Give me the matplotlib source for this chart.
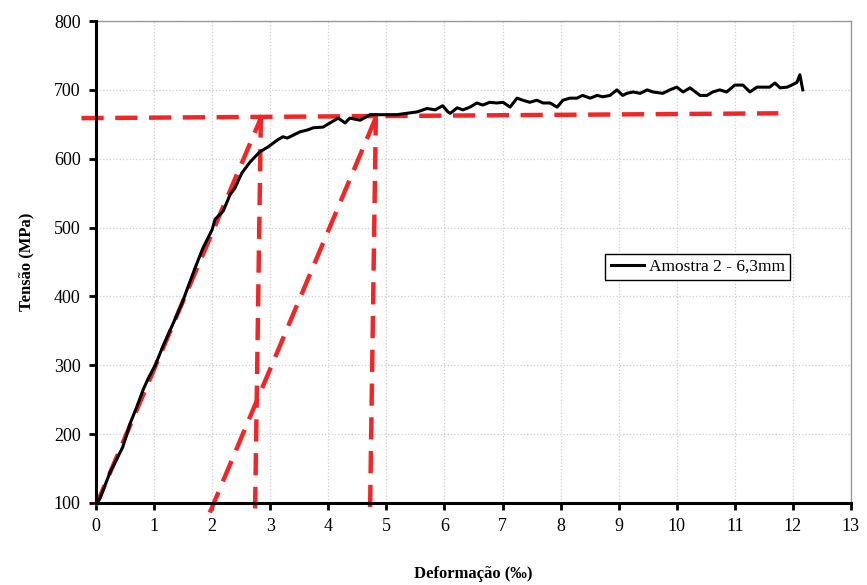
import matplotlib
matplotlib.use("Agg")
import matplotlib.pyplot as plt

# Curve data (strain in per mille, stress in MPa)
strain = [0.00, 0.07, 0.24, 0.46, 0.59, 0.70, 0.81, 0.90, 1.02, 1.15, 1.33, 1.48, 1.70, 1.84,
          2.00, 2.05, 2.19, 2.31, 2.39, 2.51, 2.65, 2.82, 2.96, 3.12, 3.22, 3.29, 3.39, 3.51,
          3.65, 3.74, 3.91, 4.03, 4.17, 4.29, 4.37, 4.55, 4.72, 4.94, 5.18, 5.35, 5.53, 5.70,
          5.84, 5.97, 6.06, 6.10, 6.22, 6.32, 6.44, 6.56, 6.66, 6.78, 6.90, 7.01, 7.13, 7.25,
          7.35, 7.47, 7.59, 7.70, 7.82, 7.94, 8.04, 8.16, 8.28, 8.38, 8.51, 8.63, 8.73, 8.85,
          8.97, 9.07, 9.14, 9.25, 9.37, 9.49, 9.59, 9.76, 9.88, 10.00, 10.11, 10.23, 10.40,
          10.52, 10.62, 10.74, 10.86, 11.00, 11.14, 11.26, 11.38, 11.48, 11.60, 11.69, 11.78,
          11.90, 11.98, 12.07, 12.12, 12.17]
stress = [98, 107, 144, 181, 216, 239, 264, 281, 300, 327, 361, 390, 440, 470,
          497, 512, 524, 548, 557, 579, 595, 610, 617, 627, 632, 630, 634, 639,
          642, 645, 646, 652, 659, 652, 659, 656, 664, 664, 664, 666, 668, 673,
          671, 677, 668, 666, 674, 671, 675, 681, 678, 682, 681, 682, 675, 688,
          685, 682, 685, 681, 681, 675, 685, 688, 688, 692, 688, 692, 690, 692,
          700, 692, 695, 697, 695, 700, 697, 695, 700, 704, 697, 703, 692,
          692, 697, 700, 697, 707, 707, 697, 704, 704, 704, 710, 703,
          704, 707, 711, 722, 700]

# Red dashed construction lines
yield_x = [-0.25, 11.75]
yield_y = [659, 666]
elastic_x = [0.0, 2.86]
elastic_y = [96, 663]
vert1_x = [2.84, 2.74]
vert1_y = [663, 92]
offset_x = [1.96, 4.85]
offset_y = [86, 666]
vert2_x = [4.82, 4.72]
vert2_y = [666, 92]

x_ticks = list(range(0, 14))
y_ticks = list(range(100, 801, 100))
legend_label = "Amostra 2 - 6,3mm"

plt.rcParams['font.family'] = ['Liberation Serif', 'DejaVu Serif']

fig = plt.figure(figsize=(8.67, 5.85), dpi=100)
ax = fig.add_axes([0.1107, 0.1402, 0.8708, 0.8238])

ax.set_xlim(0, 13)
ax.set_ylim(100, 800)
ax.set_xticks(x_ticks)
ax.set_yticks(y_ticks)
ax.grid(True, color='#cfcfcf', linestyle=':', linewidth=0.9)
ax.set_axisbelow(True)

red = '#f22626'
dash = (5, 2.6)
for xs, ys in [(yield_x, yield_y), (elastic_x, elastic_y), (vert1_x, vert1_y),
               (offset_x, offset_y), (vert2_x, vert2_y)]:
    ax.plot(xs, ys, color=red, lw=3.2, dashes=dash, clip_on=False, zorder=3,
            solid_capstyle='butt', dash_capstyle='butt')

ax.plot(strain, stress, color='black', lw=2.2, label=legend_label, zorder=4)

for s in ['top', 'right']:
    ax.spines[s].set_color('#999999')
    ax.spines[s].set_linewidth(1.0)
for s in ['left', 'bottom']:
    ax.spines[s].set_color('black')
    ax.spines[s].set_linewidth(2.2)
    ax.spines[s].set_zorder(5)

ax.tick_params(axis='both', direction='out', length=5, width=2, labelsize=13,
               colors='black', pad=6)

ax.set_xlabel('Deformação (‰)', fontsize=12, fontweight='bold', labelpad=22)
ax.set_ylabel('Tensão (MPa)', fontsize=12, fontweight='bold', labelpad=14)

leg = ax.legend(loc='center', bbox_to_anchor=(0.797, 0.49), fontsize=12.5,
                frameon=True, fancybox=False, edgecolor='black', framealpha=1,
                handlelength=1.9, borderpad=0.3, borderaxespad=0.0,
                handletextpad=0.3)
leg.get_frame().set_linewidth(1.0)

fig.savefig('out.png', dpi=100)
